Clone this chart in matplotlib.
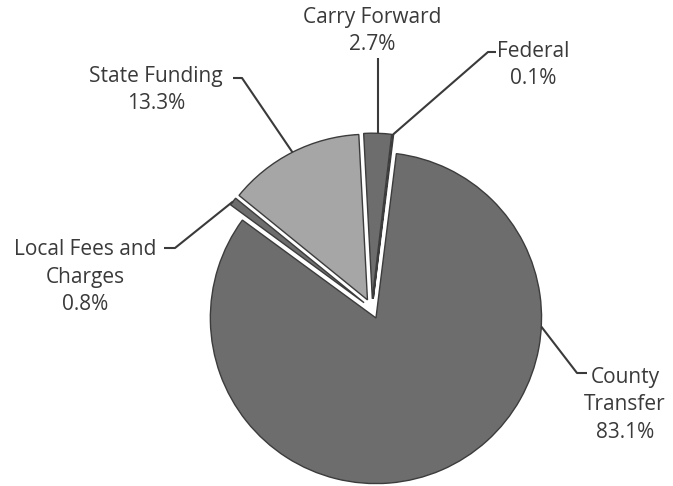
import matplotlib
matplotlib.use("Agg")
import matplotlib.pyplot as plt
import numpy as np

# Revenue sources, in percent of total
categories = ["Carry Forward", "Federal", "County\nTransfer",
              "Local Fees and\nCharges", "State Funding"]
shares = [2.7, 0.1, 83.1, 0.8, 13.3]
share_labels = ["2.7%", "0.1%", "83.1%", "0.8%", "13.3%"]
colors = ["#6d6d6d", "#6d6d6d", "#6d6d6d", "#6d6d6d", "#a6a6a6"]

W, H = 673, 486
fig = plt.figure(figsize=(W / 100, H / 100), dpi=100)
ax = fig.add_axes([0, 0, 1, 1])

def px(x, y):
    """Pixel position (y downward) to data coordinates."""
    return x, H - y

wedges, _ = ax.pie(
    shares, colors=colors, startangle=93, counterclock=False,
    radius=165.6, center=px(372, 308.8), explode=[10] * len(shares),
    wedgeprops=dict(edgecolor="#3c3c3c", linewidth=1.0),
)
ax.set_xlim(0, W)
ax.set_ylim(0, H)
ax.set_aspect("equal")
ax.axis("off")

def arc_point(w, angle=None):
    """Point on a wedge's outer arc (angle in degrees, CCW from +x)."""
    if angle is None:
        angle = 0.5 * (w.theta1 + w.theta2)
    a = np.deg2rad(angle)
    cx, cy = w.center
    return cx + w.r * np.cos(a), cy + w.r * np.sin(a)

# label layout: text centre, arc angle for the leader, elbow and stub end
layout = [
    dict(text=(372, 31), angle=None, elbow=None, stub=None, top=58),
    dict(text=(533, 65), angle=None, elbow=(488, 52), stub=(496, 52)),
    dict(text=(625, 405), angle=-3, elbow=(577, 373), stub=(587, 373)),
    dict(text=(85, 277), angle=None, elbow=(175, 248), stub=(164, 248)),
    dict(text=(156, 90), angle=None, elbow=(242, 78), stub=(233, 78)),
]

line_kw = dict(color="#3a3a3a", lw=1.5, solid_capstyle="butt")
font = dict(family=["Open Sans", "DejaVu Sans"], size=15, color="#3a3a3a")

for w, name, pct, lay in zip(wedges, categories, share_labels, layout):
    ax0, ay0 = arc_point(w, lay["angle"])
    if lay["elbow"] is None:
        ex, ey = px(0, lay["top"])
        ax.plot([ax0, ax0], [ay0, ey], **line_kw)
    else:
        ex, ey = px(*lay["elbow"])
        sx, sy = px(*lay["stub"])
        ax.plot([ax0, ex, sx], [ay0, ey, sy], **line_kw)
    tx, ty = px(*lay["text"])
    ax.text(tx, ty, f"{name}\n{pct}", ha="center", va="center",
            multialignment="center", linespacing=1.4, **font)

fig.savefig("out.png", dpi=100)
